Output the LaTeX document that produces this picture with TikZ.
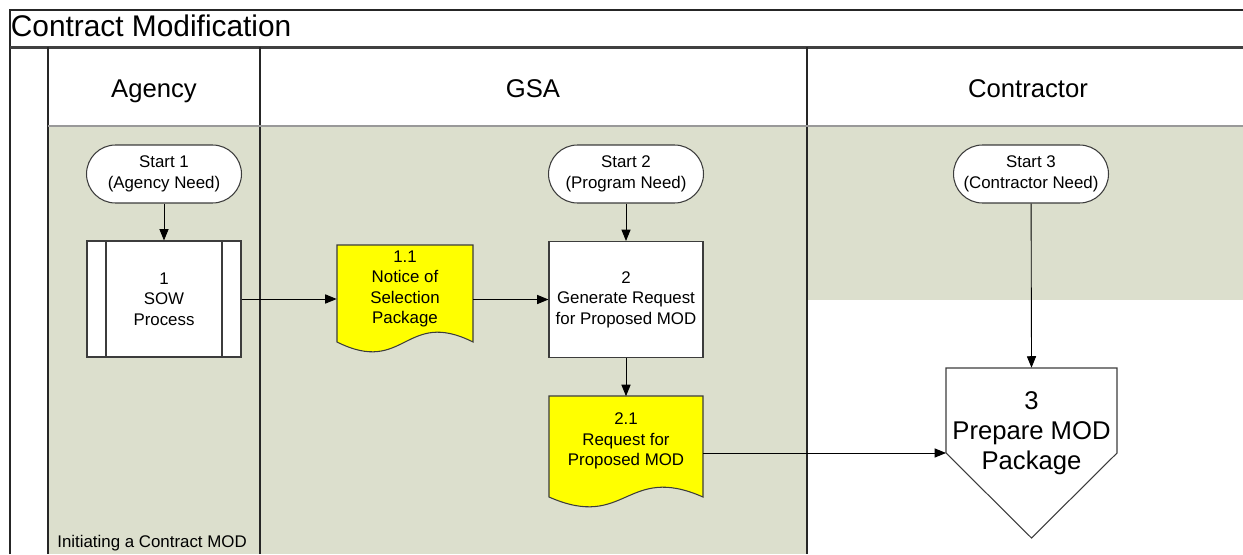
\documentclass[tikz,border=0pt]{standalone}
\usepackage{fontspec}
\setmainfont{Liberation Sans}
\usepackage{xcolor}
\usepackage{tikz}
\usetikzlibrary{arrows.meta}
\definecolor{lanegreen}{RGB}{220,223,205}
\definecolor{docyellow}{RGB}{255,255,0}
\definecolor{shapeline}{RGB}{60,60,60}
\tikzset{
    txtnode/.style = {align=center, inner sep=0pt, text centered, font=\fontsize{9.6}{11.6}\selectfont},
    start_node/.style = {txtnode, rectangle, rounded corners=0.58cm, draw=shapeline, fill=white, minimum width=3.1cm, minimum height=1.16cm, line width=0.6pt},
    proc_node/.style = {txtnode, rectangle, draw=shapeline, fill=white, minimum width=3.08cm, minimum height=2.32cm, line width=0.6pt},
    doc_node/.style = {txtnode, minimum height=1.78cm},
    mod_node/.style = {txtnode, minimum width=3.42cm, minimum height=2.6cm, font=\fontsize{14.6}{17}\selectfont},
    lane_head/.style = {inner sep=0pt, anchor=base, font=\fontsize{14.6}{17}\selectfont},
    shape_line/.style = {draw=shapeline, line width=0.6pt},
    frame_line/.style = {draw=black!85, line width=0.6pt},
    flow/.style = {->, draw=black, line width=0.5pt}
}
\newcommand{\docshape}[4]{%
    \filldraw[shape_line, fill=docyellow] (#1,#2) -- (#1+#3,#2) -- (#1+#3,#2+#4)
        .. controls (#1+#3/2,#2+#4-34) and (#1+#3/2,#2+#4+34) .. (#1,#2+#4) -- cycle;
}
\begin{document}
\begin{tikzpicture}
    [x=0.02cm, y=-0.02cm, >={Triangle[length=6.5pt,width=5.2pt]}]

    \useasboundingbox (0,0) rectangle (1243,554);

    \fill[lanegreen] (48,126) rectangle (807,554);
    \fill[lanegreen] (807,126) rectangle (1243,300);

    \draw[frame_line] (10,554) -- (10,10) -- (1243,10);
    \draw[black!75, line width=1.3pt] (10,47.5) -- (1243,47.5);
    \draw[frame_line] (48,47.5) -- (48,554);
    \draw[frame_line] (260,47.5) -- (260,554);
    \draw[frame_line] (807,47.5) -- (807,554);
    \draw[black!40, line width=0.8pt] (48,126) -- (1243,126);

    \node [anchor=base west, inner sep=0pt, font=\fontsize{17}{20}\selectfont] (title) at (10.5,37) {Contract Modification};
    \node [lane_head] (agency) at (154,97) {Agency};
    \node [lane_head] (gsa) at (533,97) {GSA};
    \node [lane_head] (contractor) at (1028,97) {Contractor};
    \node [anchor=base west, inner sep=0pt, font=\fontsize{9.6}{11.6}\selectfont] (phase) at (57,547) {Initiating a Contract MOD};

    \node [start_node] (start1) at (164,174) {Start 1\\(Agency Need)};
    \node [start_node] (start2) at (626,174) {Start 2\\(Program Need)};
    \node [start_node] (start3) at (1031,174) {Start 3\\(Contractor Need)};

    \node [proc_node] (sow1) at (164,299) {1\\SOW\\Process};
    \draw[shape_line] ([xshift=0.39cm]sow1.north west) -- ([xshift=0.39cm]sow1.south west);
    \draw[shape_line] ([xshift=-0.39cm]sow1.north east) -- ([xshift=-0.39cm]sow1.south east);

    \node [proc_node, minimum width=3.08cm] (gen2) at (626,299.5) {2\\Generate Request\\for Proposed MOD};

    \docshape{337}{245}{136}{97}
    \node [doc_node, minimum width=2.72cm] (notice11) at (405,289) {1.1\\Notice of\\Selection\\Package};
    \docshape{549}{396}{154}{101}
    \node [doc_node, minimum width=3.08cm] (request21) at (626,441) {2.1\\Request for\\Proposed MOD};

    \filldraw[shape_line, fill=white] (946,368) -- (1117,368) -- (1117,453) -- (1031.5,538) -- (946,453) -- cycle;
    \coordinate (mod3corner) at (946,453);
    \node [mod_node] (mod3) at (1031.5,433) {3\\Prepare MOD\\Package};

    \draw[flow] (start1) -- (sow1);
    \draw[flow] (sow1) -- (sow1 -| notice11.west);
    \draw[flow] (notice11.east |- gen2) -- (gen2);
    \draw[flow] (start2) -- (gen2);
    \draw[flow] (gen2) -- (request21.north);
    \draw[flow] (request21.east |- mod3corner) -- (mod3corner);
    \draw[flow] (start3) -- (mod3.north);
\end{tikzpicture}
\end{document}
